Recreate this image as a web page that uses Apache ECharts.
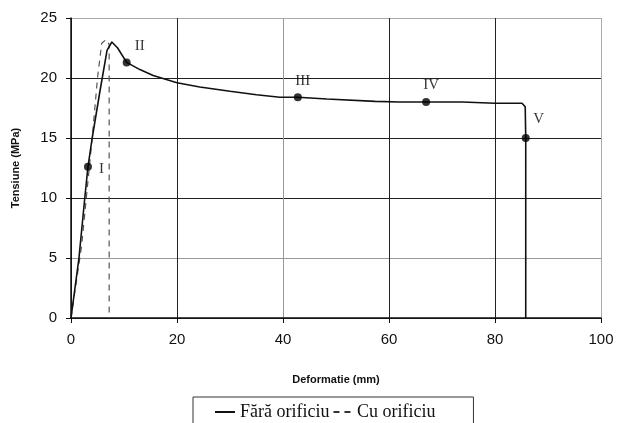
<!DOCTYPE html>
<html>
<head>
<meta charset="utf-8">
<script src="https://cdn.jsdelivr.net/npm/echarts@6/dist/echarts.min.js"></script>
<style>
    html, body { margin: 0; padding: 0; background: #fff; }
    #chart { width: 619px; height: 423px; }
</style>
</head>
<body>
<div id="chart"></div>
<script>
// Fără orificiu (linie continuă)
const solidX = [0, 1.5, 2.6, 3.2, 4.0, 5.5, 6.8, 7.7, 8.8, 10.5, 13, 15.5, 20, 24.3, 30, 35, 39.4, 42.8, 48.3, 57.4, 62, 67, 73.8, 80, 85.1, 85.7, 85.8, 85.8];
const solidY = [0, 5, 10, 12.6, 15, 19, 22.3, 23.0, 22.5, 21.3, 20.7, 20.2, 19.6, 19.25, 18.9, 18.6, 18.4, 18.4, 18.25, 18.05, 18.0, 18.0, 18.0, 17.9, 17.9, 17.6, 15, 0];

// Cu orificiu (linie întreruptă)
const dashedX = [0, 2, 4, 5, 5.8, 6.6, 7.2, 7.2];
const dashedY = [0, 6, 15, 20, 22.9, 23.2, 22.8, 0];

// puncte marcate
const pointX = [3.2, 10.5, 42.8, 67, 85.8];
const pointY = [12.6, 21.3, 18.4, 18.0, 15.0];
const pointLabels = ["I", "II", "III", "IV", "V"];

const xTicks = [0, 20, 40, 60, 80, 100];
const yTicks = [0, 5, 10, 15, 20, 25];

const seriesNames = ["Fără orificiu", "Cu orificiu"];

// poziția etichetelor (stil)
const labelStyle = [
    { position: "right", offset: [2, 2] },
    { position: "top", offset: [13, 0] },
    { position: "top", offset: [5, 0] },
    { position: "top", offset: [5, 0] },
    { position: "top", offset: [13, -2] },
];

const chart = echarts.init(document.getElementById("chart"));

const zip = (xs, ys) => xs.map((x, i) => [x, ys[i]]);

const option = {
    animation: false,
    backgroundColor: "#fff",
    grid: { left: 71, right: 18, top: 18, bottom: 105 },
    xAxis: {
        type: "value",
        min: xTicks[0],
        max: xTicks[xTicks.length - 1],
        interval: 20,
        name: "Deformatie (mm)",
        nameLocation: "middle",
        nameGap: 56,
        nameTextStyle: { fontFamily: "Liberation Sans", fontWeight: "bold", fontSize: 11, color: "#111" },
        axisLine: { lineStyle: { color: "#111", width: 1.5 } },
        axisTick: { show: true, length: 5, lineStyle: { color: "#111" } },
        axisLabel: { fontFamily: "Liberation Sans", fontSize: 15, color: "#111", margin: 14 },
        splitLine: { show: true, lineStyle: { color: ["#222", "#222", "#999", "#222", "#222", "#aaa"], width: 1 } },
    },
    yAxis: {
        type: "value",
        min: yTicks[0],
        max: yTicks[yTicks.length - 1],
        interval: 5,
        name: "Tensiune (MPa)",
        nameLocation: "middle",
        nameRotate: 90,
        nameGap: 50,
        nameTextStyle: { fontFamily: "Liberation Sans", fontWeight: "bold", fontSize: 11, color: "#111" },
        axisLine: { show: true, lineStyle: { color: "#111", width: 1.5 } },
        axisTick: { show: true, length: 5, lineStyle: { color: "#111" } },
        axisLabel: { fontFamily: "Liberation Sans", fontSize: 15, color: "#111", margin: 14 },
        splitLine: { show: true, lineStyle: { color: ["#222", "#999", "#222", "#222", "#222", "#aaa"], width: 1 } },
    },
    legend: {
        data: [
            { name: seriesNames[0], icon: "rect", itemStyle: { color: "#111" } },
            { name: seriesNames[1], icon: "path://M0,0h6v2h-6z M11,0h6v2h-6z", itemStyle: { color: "#333" } },
        ],
        left: 193,
        top: 397,
        orient: "horizontal",
        itemGap: 4,
        itemWidth: 20,
        itemHeight: 2,
        padding: [6, 38, 14, 22],
        borderColor: "#333",
        borderWidth: 1,
        textStyle: { fontFamily: "Liberation Serif", fontSize: 18, color: "#111" },
    },
    series: [
        {
            name: seriesNames[0],
            type: "line",
            data: zip(solidX, solidY),
            symbol: "none",
            smooth: false,
            lineStyle: { color: "#111", width: 1.6 },
            itemStyle: { color: "#111" },
            z: 3,
        },
        {
            name: seriesNames[1],
            type: "line",
            data: zip(dashedX, dashedY),
            symbol: "none",
            lineStyle: { color: "#555", width: 1.2, type: [6, 5] },
            itemStyle: { color: "#555" },
            z: 2,
        },
        {
            name: "puncte",
            type: "scatter",
            data: pointX.map((x, i) => ({
                value: [x, pointY[i]],
                label: {
                    show: true,
                    formatter: pointLabels[i],
                    position: labelStyle[i].position,
                    offset: labelStyle[i].offset,
                },
            })),
            symbol: "circle",
            symbolSize: 8,
            itemStyle: { color: "#000" },
            label: { fontFamily: "Liberation Serif", fontSize: 15, color: "#000" },
            z: 4,
        },
    ],
};

chart.setOption(option);
</script>
</body>
</html>
